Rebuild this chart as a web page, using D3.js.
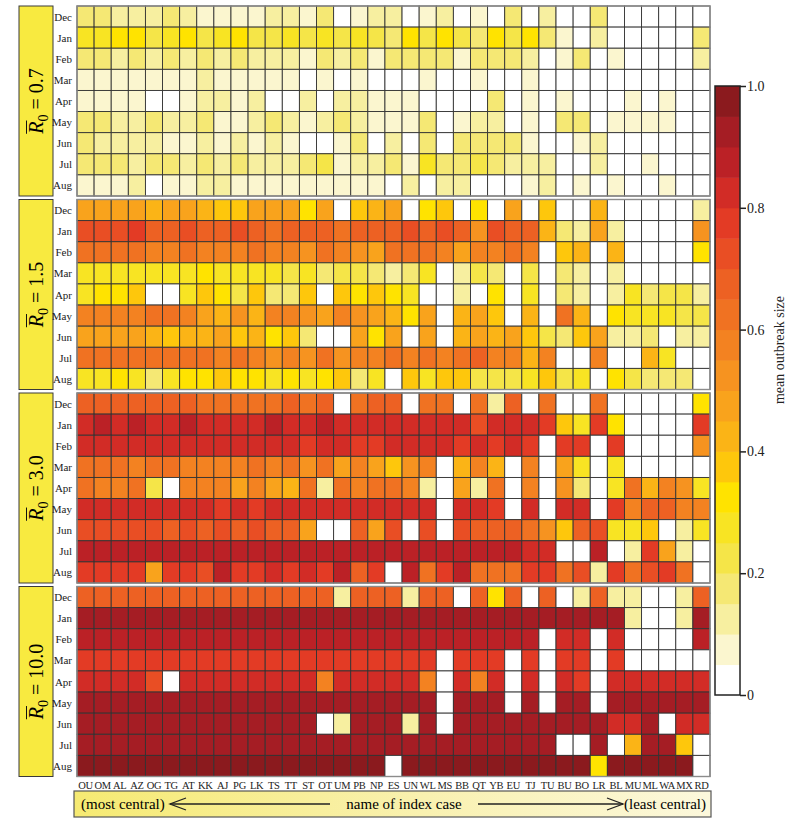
<!DOCTYPE html>
<html>
<head>
<meta charset="utf-8">
<script src="https://cdn.jsdelivr.net/npm/d3@7"></script>
<style>
  body { margin: 0; background: #fff; }
  text { font-family: "Liberation Serif", "DejaVu Serif", serif; }
</style>
</head>
<body>
<svg id="chart" width="793" height="819"></svg>
<script>
// index cases, most central -> least central
var cases = ["OU","OM","AL","AZ","OG","TG","AT","KK","AJ","PG","LK","TS","TT","ST","OT","UM","PB","NP","ES",
             "UN","WL","MS","BB","QT","YB","EU","TJ","TU","BU","BO","LR","BL","MU","ML","WA","MX","RD"];
var months = ["Dec","Jan","Feb","Mar","Apr","May","Jun","Jul","Aug"];
var r0Labels = ["0.7","1.5","3.0","10.0"];

// mean outbreak size, one row per month, one value per index case
var r07 = [
  [0.17,0.18,0.14,0.14,0.13,0.17,0.14,0.08,0.09,0.08,0.08,0.12,0.13,0.08,0.18,0,0.08,0.12,0.13, 0,0.08,0.12,0,0.08,0,0.17,0,0.12,0,0,0.17,0,0,0,0,0,0],
  [0.27,0.26,0.30,0.32,0.23,0.26,0.31,0.22,0.28,0.31,0.22,0.21,0.26,0.22,0.27,0.22,0.26,0.22,0.18, 0.31,0.22,0.31,0.24,0.19,0.31,0.24,0.31,0.17,0.09,0,0.14,0,0,0,0,0,0.17],
  [0.18,0.19,0.14,0.15,0.14,0.17,0.14,0.17,0.14,0.18,0.14,0.13,0.13,0.08,0.16,0.14,0.16,0.09,0.16, 0.17,0.16,0.17,0.09,0.15,0.17,0.17,0.11,0,0.08,0.17,0,0.08,0,0,0,0,0.10],
  [0.08,0.08,0.07,0.08,0.07,0.08,0.07,0.10,0.09,0.08,0.08,0.09,0.07,0,0.07,0,0.07,0,0, 0,0.08,0,0,0.08,0,0,0.08,0,0,0,0,0,0,0,0,0,0],
  [0.08,0.08,0.08,0.08,0,0,0.08,0.13,0.12,0.08,0.12,0,0,0.13,0,0.12,0.13,0.08,0.09, 0.09,0,0,0,0,0.16,0,0.08,0,0.07,0,0,0,0.08,0,0.08,0,0],
  [0.16,0.17,0.12,0.12,0.16,0.13,0.13,0.16,0.08,0.09,0.13,0.16,0.12,0.09,0.13,0.16,0.12,0.09,0.09, 0.08,0.15,0,0.09,0.14,0.10,0,0.08,0,0.15,0.15,0,0.08,0.08,0.07,0.08,0,0],
  [0.15,0.12,0.14,0.13,0.13,0.09,0.09,0.13,0.08,0.13,0.08,0.12,0.09,0,0,0.07,0.16,0,0.13, 0,0.16,0,0.15,0.16,0.15,0.15,0.09,0,0,0.08,0.14,0,0,0,0,0,0],
  [0.18,0.16,0.17,0.14,0.17,0.18,0.14,0.17,0.13,0.16,0.13,0.14,0.13,0.15,0.22,0.07,0.13,0.10,0.15, 0.09,0.25,0.16,0.15,0.24,0.16,0.14,0.10,0.12,0,0,0.14,0,0,0.08,0,0,0],
  [0.09,0.08,0.08,0.10,0,0.08,0.07,0.10,0.13,0.08,0.07,0.08,0.07,0.08,0.09,0.09,0.08,0.08,0, 0.14,0,0.13,0.13,0,0,0,0.09,0.13,0,0.08,0,0.08,0,0,0.08,0,0]
];
var r15 = [
  [0.46,0.45,0.46,0.47,0.44,0.45,0.47,0.42,0.38,0.37,0.46,0.47,0.48,0.33,0.47,0,0.38,0.42,0.47, 0,0.32,0.38,0,0.32,0,0.47,0,0.38,0,0,0.40,0,0,0,0,0,0.10],
  [0.73,0.72,0.74,0.75,0.68,0.66,0.74,0.66,0.68,0.73,0.66,0.62,0.66,0.68,0.66,0.62,0.68,0.66,0.65, 0.70,0.65,0.74,0.65,0.52,0.70,0.66,0.68,0.42,0.17,0.10,0.45,0.10,0,0,0,0,0.50],
  [0.63,0.63,0.62,0.63,0.57,0.58,0.60,0.56,0.55,0.58,0.60,0.56,0.55,0.50,0.63,0.55,0.52,0.47,0.60, 0.60,0.60,0.57,0.48,0.58,0.55,0.60,0.55,0,0.38,0.43,0,0.43,0,0,0,0,0.30],
  [0.28,0.28,0.27,0.28,0.28,0.27,0.27,0.30,0.28,0.28,0.26,0.27,0.20,0.27,0.18,0.20,0.20,0.18,0.12, 0.18,0.25,0,0.10,0.22,0.17,0,0.20,0,0.15,0.10,0,0.10,0,0,0,0,0],
  [0.28,0.30,0.33,0.35,0,0,0.28,0.38,0.33,0.20,0.37,0.16,0.17,0.38,0,0.38,0.33,0.37,0.30, 0.28,0,0,0.12,0,0.33,0,0.25,0,0.18,0.10,0,0.10,0.25,0.18,0.22,0.20,0.12],
  [0.57,0.58,0.55,0.57,0.60,0.60,0.57,0.47,0.43,0.50,0.42,0.55,0.58,0.50,0.47,0.55,0.52,0.45,0.40, 0.32,0.45,0,0.42,0.45,0.38,0,0.42,0,0.60,0.42,0,0.33,0.27,0.27,0.25,0.20,0.22],
  [0.47,0.45,0.45,0.47,0.42,0.36,0.42,0.42,0.45,0.38,0.40,0.32,0.37,0.17,0,0,0.45,0.30,0.47, 0,0.47,0,0.40,0.47,0.40,0.45,0.38,0.22,0.17,0.38,0.45,0.12,0.12,0.15,0,0.12,0.13],
  [0.63,0.62,0.63,0.62,0.60,0.63,0.60,0.62,0.57,0.62,0.55,0.52,0.55,0.52,0.62,0.52,0.55,0.55,0.62, 0.55,0.62,0.55,0.62,0.66,0.57,0.55,0.42,0.55,0,0,0.55,0,0,0.42,0.27,0,0],
  [0.28,0.28,0.30,0.28,0.15,0.28,0.30,0.32,0.37,0.30,0.33,0.28,0.32,0.28,0.30,0.38,0.17,0.27,0, 0.38,0.25,0.37,0.37,0.20,0.22,0.22,0.28,0.38,0.20,0.28,0,0.30,0.20,0.17,0.18,0.15,0]
];
var r30 = [
  [0.67,0.67,0.66,0.67,0.66,0.67,0.67,0.62,0.62,0.63,0.62,0.64,0.67,0.62,0.67,0,0.63,0.67,0.66, 0,0.62,0.62,0,0.62,0.10,0.67,0,0.64,0,0,0.62,0,0,0,0,0,0.30],
  [0.84,0.86,0.84,0.86,0.84,0.84,0.86,0.84,0.84,0.84,0.84,0.86,0.84,0.84,0.86,0.84,0.84,0.84,0.84, 0.84,0.84,0.84,0.84,0.72,0.84,0.84,0.84,0.77,0.37,0.28,0.77,0.30,0,0,0,0,0.77],
  [0.84,0.84,0.84,0.84,0.84,0.84,0.84,0.84,0.84,0.84,0.84,0.84,0.84,0.77,0.84,0.84,0.77,0.77,0.84, 0.84,0.84,0.84,0.77,0.84,0.77,0.84,0.77,0,0.77,0.77,0,0.77,0,0,0,0,0.52],
  [0.62,0.60,0.60,0.58,0.62,0.60,0.58,0.55,0.57,0.57,0.60,0.58,0.62,0.50,0.60,0.47,0.57,0.47,0.37, 0.50,0.58,0,0.42,0.57,0.40,0,0.55,0,0.48,0.28,0,0.28,0,0,0,0,0],
  [0.60,0.58,0.58,0.60,0.20,0,0.55,0.58,0.58,0.47,0.57,0.48,0.43,0.60,0.10,0.60,0.58,0.60,0.60, 0.55,0.12,0,0.45,0.10,0.60,0,0.57,0,0.52,0.17,0,0.28,0.62,0.42,0.55,0.52,0.28],
  [0.84,0.84,0.84,0.84,0.84,0.84,0.84,0.82,0.78,0.84,0.78,0.84,0.84,0.84,0.84,0.84,0.84,0.84,0.84, 0.84,0.84,0,0.84,0.84,0.77,0,0.84,0,0.84,0.84,0,0.77,0.58,0.68,0.66,0.58,0.55],
  [0.72,0.72,0.70,0.72,0.70,0.68,0.70,0.68,0.70,0.67,0.70,0.68,0.67,0.45,0,0,0.68,0.47,0.70, 0,0.70,0,0.70,0.68,0.68,0.68,0.62,0.50,0.37,0.68,0.70,0.28,0.28,0.38,0,0.12,0.28],
  [0.88,0.88,0.88,0.88,0.88,0.88,0.88,0.88,0.88,0.88,0.88,0.88,0.88,0.88,0.88,0.88,0.88,0.88,0.88, 0.88,0.88,0.88,0.88,0.88,0.88,0.88,0.80,0.80,0,0,0.87,0,0.10,0.75,0.48,0.12,0],
  [0.78,0.78,0.78,0.78,0.45,0.78,0.78,0.72,0.87,0.78,0.78,0.82,0.78,0.80,0.78,0.87,0.67,0.78,0, 0.87,0.62,0.78,0.87,0.60,0.60,0.62,0.75,0.78,0.60,0.72,0.10,0.75,0.62,0.72,0.78,0.62,0]
];
var r100 = [
  [0.66,0.66,0.66,0.66,0.66,0.66,0.66,0.66,0.66,0.66,0.66,0.66,0.66,0.66,0.66,0.10,0.66,0.66,0.66, 0.10,0.66,0.66,0,0.66,0.32,0.66,0,0.66,0,0.10,0.66,0.10,0.10,0,0,0.10,0.66],
  [0.92,0.92,0.92,0.92,0.92,0.92,0.92,0.92,0.92,0.92,0.92,0.92,0.92,0.92,0.92,0.92,0.92,0.92,0.92, 0.92,0.92,0.92,0.92,0.92,0.92,0.92,0.92,0.92,0.92,0.92,0.92,0.92,0.10,0,0,0.10,0.92],
  [0.86,0.86,0.86,0.86,0.86,0.86,0.86,0.86,0.86,0.86,0.86,0.86,0.86,0.86,0.86,0.86,0.86,0.86,0.86, 0.86,0.86,0.86,0.86,0.86,0.86,0.86,0.86,0,0.84,0.84,0,0.84,0,0,0,0,0.86],
  [0.78,0.78,0.78,0.78,0.78,0.78,0.78,0.78,0.78,0.78,0.78,0.78,0.78,0.78,0.78,0.78,0.78,0.78,0.78, 0.78,0.78,0,0.78,0.78,0.78,0,0.78,0,0.78,0.78,0,0.78,0,0,0,0,0],
  [0.82,0.82,0.82,0.82,0.72,0,0.82,0.82,0.82,0.82,0.82,0.82,0.82,0.82,0.58,0.82,0.82,0.82,0.82, 0.82,0.58,0,0.82,0.57,0.82,0,0.82,0,0.82,0.78,0,0.82,0.82,0.82,0.82,0.82,0.82],
  [0.92,0.92,0.92,0.92,0.92,0.92,0.92,0.92,0.92,0.92,0.92,0.92,0.92,0.92,0.92,0.92,0.92,0.92,0.92, 0.92,0.92,0,0.92,0.92,0.92,0,0.92,0,0.92,0.92,0,0.92,0.92,0.92,0.92,0.92,0.92],
  [0.92,0.92,0.92,0.92,0.92,0.92,0.92,0.92,0.92,0.92,0.92,0.92,0.92,0.92,0,0.10,0.92,0.92,0.92, 0.10,0.92,0,0.92,0.92,0.92,0.92,0.92,0.92,0.92,0.92,0.92,0.84,0.84,0.92,0,0.84,0.84],
  [0.91,0.91,0.91,0.91,0.91,0.91,0.91,0.91,0.91,0.91,0.91,0.91,0.91,0.91,0.91,0.91,0.91,0.91,0.91, 0.91,0.91,0.91,0.91,0.91,0.91,0.91,0.91,0.91,0,0,0.91,0,0.40,0.91,0.91,0.35,0],
  [0.95,0.95,0.95,0.95,0.95,0.95,0.95,0.95,0.95,0.95,0.95,0.95,0.95,0.95,0.95,0.95,0.95,0.95,0, 0.95,0.95,0.95,0.95,0.95,0.95,0.95,0.95,0.95,0.95,0.95,0.32,0.95,0.95,0.95,0.95,0.95,0]
];
var panels = [r07, r15, r30, r100];

// 20 colour steps of the colour bar, 0 -> 1
var binColors = ["#ffffff","#fbf6cf","#f7efa0","#f5e874","#f5e548","#f8e423","#ffe300","#fec70c",
                 "#fbb416","#f9a31c","#f69320","#f38221","#f07222","#ed6123","#e94e24","#e33b25",
                 "#d22c26","#bb2126","#a51d24","#8b1a1e"];
var colorTicks = [0, 0.2, 0.4, 0.6, 0.8, 1.0];

var svg = d3.select("#chart");

var color = d3.scaleQuantize().domain([0, 1]).range(binColors);

var x = d3.scaleBand().domain(cases).range([77, 710]);

var panelH = 190, panelGap = 3.5, panelTop = 6;

panels.forEach(function(rows, p) {
    var top = panelTop + p * (panelH + panelGap);
    var y = d3.scaleBand().domain(months).range([top, top + panelH]);

    var g = svg.append("g").attr("class", "panel");

    // label box on the left
    g.append("rect")
        .attr("x", 19).attr("y", top)
        .attr("width", 34).attr("height", panelH)
        .attr("fill", "#f8ea40")
        .attr("stroke", "#3a3a3a").attr("stroke-width", 1);

    var lg = g.append("g")
        .attr("transform", "translate(43," + (top + panelH / 2) + ") rotate(-90)");
    var lab = lg.append("text")
        .attr("text-anchor", "middle")
        .style("font-size", "20px");
    lab.append("tspan").style("font-style", "italic").text("R");
    lab.append("tspan").attr("dy", 5).style("font-size", "14px").text("0");
    lab.append("tspan").attr("dy", -5).text(" = " + r0Labels[p]);
    var ext = lab.node().getExtentOfChar(0);
    lg.append("line")
        .attr("x1", ext.x).attr("x2", ext.x + ext.width + 1)
        .attr("y1", ext.y + 1.5).attr("y2", ext.y + 1.5)
        .attr("stroke", "#111").attr("stroke-width", 1);

    // month labels
    g.selectAll(".month")
        .data(months)
        .enter().append("text")
        .attr("class", "month")
        .attr("x", 72)
        .attr("y", function(d) { return y(d) + y.bandwidth() / 2 + 4; })
        .attr("text-anchor", "end")
        .style("font-size", "11px")
        .attr("fill", "#222")
        .text(function(d) { return d; });

    // cells
    var cells = [];
    rows.forEach(function(r, i) {
        r.forEach(function(v, j) {
            cells.push({ month: months[i], name: cases[j], value: v });
        });
    });

    g.selectAll(".cell")
        .data(cells)
        .enter().append("rect")
        .attr("class", "cell")
        .attr("x", function(d) { return x(d.name); })
        .attr("y", function(d) { return y(d.month); })
        .attr("width", x.bandwidth())
        .attr("height", y.bandwidth())
        .attr("fill", function(d) { return color(d.value); })
        .attr("stroke", "#333")
        .attr("stroke-width", 0.9);

    g.append("rect")
        .attr("x", x.range()[0]).attr("y", top)
        .attr("width", x.range()[1] - x.range()[0]).attr("height", panelH)
        .attr("fill", "none")
        .attr("stroke", "#8c8c8c").attr("stroke-width", 1.4);
});

// index case names under the last panel
svg.append("g").selectAll("text")
    .data(cases)
    .enter().append("text")
    .attr("x", function(d) { return x(d) + x.bandwidth() / 2; })
    .attr("y", 789)
    .attr("text-anchor", "middle")
    .style("font-size", "10.5px")
    .style("letter-spacing", "-0.3px")
    .attr("fill", "#222")
    .text(function(d) { return d; });

// bottom caption box
var defs = svg.append("defs");
var grad = defs.append("linearGradient").attr("id", "capgrad");
grad.append("stop").attr("offset", "0%").attr("stop-color", "#f6ea72");
grad.append("stop").attr("offset", "55%").attr("stop-color", "#f9f1b0");
grad.append("stop").attr("offset", "100%").attr("stop-color", "#fcf8dc");

svg.append("rect")
    .attr("x", 74).attr("y", 791)
    .attr("width", 637).attr("height", 26)
    .attr("fill", "url(#capgrad)")
    .attr("stroke", "#555").attr("stroke-width", 1.2);

svg.append("text").attr("x", 81).attr("y", 809)
    .style("font-size", "15px").text("(most central)");
svg.append("text").attr("x", 404).attr("y", 809)
    .attr("text-anchor", "middle")
    .style("font-size", "15px").text("name of index case");
svg.append("text").attr("x", 706).attr("y", 809)
    .attr("text-anchor", "end")
    .style("font-size", "15px").text("(least central)");

var arrows = svg.append("g").attr("stroke", "#222").attr("stroke-width", 1.3).attr("fill", "none");
arrows.append("line").attr("x1", 330).attr("x2", 170).attr("y1", 804).attr("y2", 804);
arrows.append("polyline").attr("points", "186,798 170,804 186,810");
arrows.append("line").attr("x1", 478).attr("x2", 623).attr("y1", 804).attr("y2", 804);
arrows.append("polyline").attr("points", "607,798 623,804 607,810");

// colour bar
var cy = d3.scaleLinear().domain([0, 1]).range([695, 86]);
var steps = d3.range(binColors.length).map(function(i) { return i / binColors.length; });
var cb = svg.append("g");
cb.selectAll("rect")
    .data(steps)
    .enter().append("rect")
    .attr("x", 715)
    .attr("y", function(d) { return cy(d + 1 / binColors.length); })
    .attr("width", 25)
    .attr("height", function(d) { return cy(d) - cy(d + 1 / binColors.length) + 0.5; })
    .attr("fill", function(d) { return color(d + 0.5 / binColors.length); });
cb.append("rect")
    .attr("x", 715).attr("y", 86).attr("width", 25).attr("height", 609)
    .attr("fill", "none").attr("stroke", "#222").attr("stroke-width", 1.5);

var cAxis = cb.append("g")
    .attr("transform", "translate(740,0)")
    .call(d3.axisRight(cy).tickValues(colorTicks).tickSize(6)
        .tickFormat(function(d) { return d === 0 ? "0" : d.toFixed(1); }));
cAxis.select(".domain").remove();
cAxis.selectAll(".tick line").attr("stroke", "#222").attr("stroke-width", 1.5);
cAxis.selectAll(".tick text")
    .attr("x", 7)
    .style("font-family", "'Liberation Serif', serif")
    .style("font-size", "14px")
    .attr("fill", "#222");

svg.append("text")
    .attr("transform", "translate(784,350) rotate(-90)")
    .attr("text-anchor", "middle")
    .style("font-size", "14px")
    .attr("fill", "#222")
    .text("mean outbreak size");
</script>
</body>
</html>
